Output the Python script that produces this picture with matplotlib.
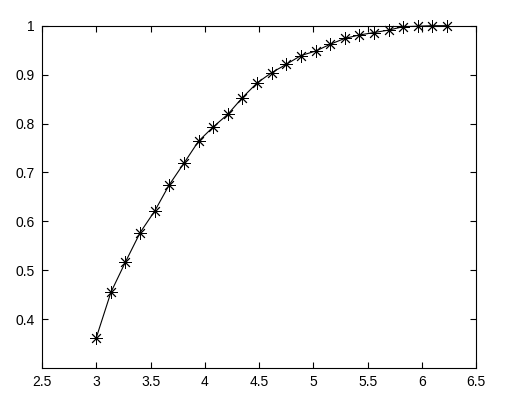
import matplotlib
matplotlib.use('Agg')
import matplotlib.pyplot as plt

# values
x_vals = [3.000, 3.135, 3.269, 3.404, 3.538, 3.673, 3.808, 3.942, 4.077,
          4.212, 4.346, 4.481, 4.615, 4.750, 4.885, 5.019, 5.154, 5.288,
          5.423, 5.558, 5.692, 5.827, 5.962, 6.096, 6.231]
y_vals = [0.362, 0.455, 0.517, 0.577, 0.621, 0.675, 0.719, 0.764, 0.793,
          0.819, 0.853, 0.883, 0.904, 0.921, 0.939, 0.948, 0.962, 0.974,
          0.981, 0.986, 0.991, 0.998, 0.999, 1.000, 1.000]
x_ticks = [2.5, 3, 3.5, 4, 4.5, 5, 5.5, 6, 6.5]
y_ticks = [0.4, 0.5, 0.6, 0.7, 0.8, 0.9, 1.0]

plt.rcParams['font.family'] = ['Liberation Sans', 'DejaVu Sans']

fig = plt.figure(figsize=(5.14, 4.08), dpi=100)
ax = fig.add_axes([0.0817, 0.098, 0.845, 0.839])

ax.plot(x_vals, y_vals, color='k', linewidth=0.8, marker=(8, 2, 0),
        markersize=9, markeredgewidth=0.65, clip_on=False)

ax.set_xlim(2.5, 6.5)
ax.set_ylim(0.3, 1.0)
ax.set_xticks(x_ticks)
ax.set_xticklabels(['2.5', '3', '3.5', '4', '4.5', '5', '5.5', '6', '6.5'])
ax.set_yticks(y_ticks)
ax.set_yticklabels(['0.4', '0.5', '0.6', '0.7', '0.8', '0.9', '1'])
ax.tick_params(direction='in', length=4, width=0.8, top=True, right=True,
               labelsize=10, pad=5)
for s in ax.spines.values():
    s.set_linewidth(0.8)

fig.savefig('out.png', dpi=100)
